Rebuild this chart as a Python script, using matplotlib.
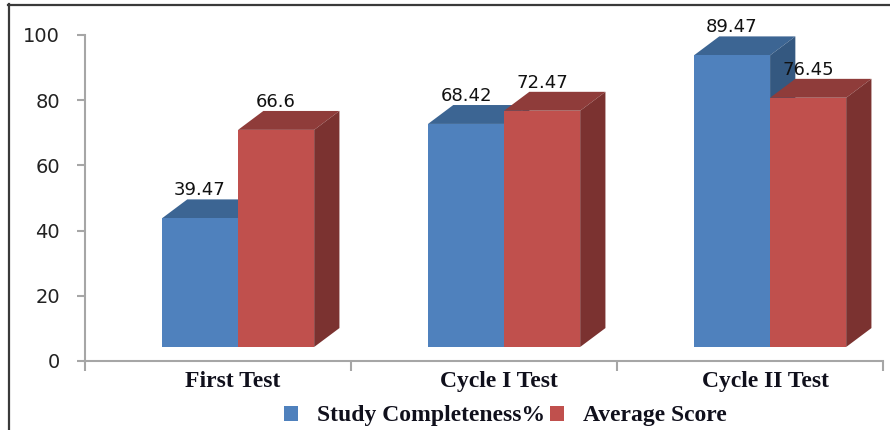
import matplotlib
matplotlib.use('Agg')
import matplotlib.pyplot as plt
from matplotlib.patches import Polygon, Patch
from matplotlib.lines import Line2D

# ---- data ----
categories = ['First Test', 'Cycle I Test', 'Cycle II Test']
series_names = ['Study Completeness%', 'Average Score']
completeness = [39.47, 68.42, 89.47]
average_score = [66.6, 72.47, 76.45]
y_ticks = [0, 20, 40, 60, 80, 100]

# ---- styles / geometry ----
W, H, DPI = 890, 430, 100
front_colors = ['#4F81BD', '#C0504D']
top_colors = ['#3C6593', '#8F3C3A']
side_colors = ['#345880', '#7B3230']
axis_grey = '#A6A6A6'

fig = plt.figure(figsize=(W / DPI, H / DPI), dpi=DPI)
ax_l, ax_r, ax_b, ax_t = 85, 883, 361, 35
ax = fig.add_axes([ax_l / W, 1 - ax_b / H, (ax_r - ax_l) / W, (ax_b - ax_t) / H])
ax.set_xlim(-0.5, 2.5)
ax.set_ylim(0, 100)

bar_w = 0.286
offsets = [-0.0675, 0.2185]
base = 4.3      # floor of the front faces (data units)
ddx = 0.095     # depth offset, x (data units)
ddy = 5.8       # depth offset, y (data units)

series = [completeness, average_score]
for s, (vals, off) in enumerate(zip(series, offsets)):
    zb = 2 + 2 * s
    xs = [i + off for i in range(len(categories))]
    ax.bar(xs, vals, width=bar_w, bottom=base, color=front_colors[s],
           edgecolor='none', zorder=zb + 1, clip_on=False)
    for x, v in zip(xs, vals):
        x0, x1 = x - bar_w / 2, x + bar_w / 2
        top = base + v
        ax.add_patch(Polygon([(x0, top), (x0 + ddx, top + ddy), (x1 + ddx, top + ddy), (x1, top)],
                             closed=True, facecolor=top_colors[s], edgecolor='none',
                             zorder=zb, clip_on=False))
        ax.add_patch(Polygon([(x1, base), (x1 + ddx, base + ddy), (x1 + ddx, top + ddy), (x1, top)],
                             closed=True, facecolor=side_colors[s], edgecolor='none',
                             zorder=zb, clip_on=False))
        ax.text(x, top + ddy, f'{v:g}', ha='center', va='bottom', fontsize=13,
                color='#111111', family='DejaVu Sans', zorder=10)

# ---- axes styling ----
for sp in ['top', 'right']:
    ax.spines[sp].set_visible(False)
for sp in ['left', 'bottom']:
    ax.spines[sp].set_color(axis_grey)
    ax.spines[sp].set_linewidth(1.5)

ax.set_yticks(y_ticks)
ax.set_yticklabels([str(t) for t in y_ticks])
ax.tick_params(axis='y', length=6, width=1.5, color=axis_grey, pad=12,
               labelsize=14, labelcolor='#222222')

ax.set_xticks([i + 0.057 for i in range(len(categories))])
ax.set_xticklabels(categories, fontsize=17, fontweight='bold',
                   family='Liberation Serif', color='#10101c')
ax.set_xticks([-0.5, 0.5, 1.5, 2.5], minor=True)
ax.tick_params(axis='x', which='major', length=0, pad=7)
ax.tick_params(axis='x', which='minor', length=7, width=1.5, color=axis_grey)

# ---- legend ----
handles = [Patch(facecolor=c, edgecolor='none') for c in front_colors]
fig.legend(handles, series_names, loc='center', bbox_to_anchor=(505 / W, 1 - 416 / H),
           ncol=2, frameon=False, handlelength=0.6, handleheight=0.6,
           handletextpad=0.8, columnspacing=0.2, borderpad=0, borderaxespad=0,
           prop={'family': 'Liberation Serif', 'weight': 'bold', 'size': 17},
           labelcolor='#10101c')

# ---- outer border (top and left only) ----
fig.add_artist(Line2D([8 / W, 1], [1 - 4.5 / H, 1 - 4.5 / H], transform=fig.transFigure,
                      color='#3a3a3a', lw=1.6))
fig.add_artist(Line2D([8.5 / W, 8.5 / W], [0, 1 - 4 / H], transform=fig.transFigure,
                      color='#3a3a3a', lw=1.6))

fig.savefig('out.png', dpi=DPI)
